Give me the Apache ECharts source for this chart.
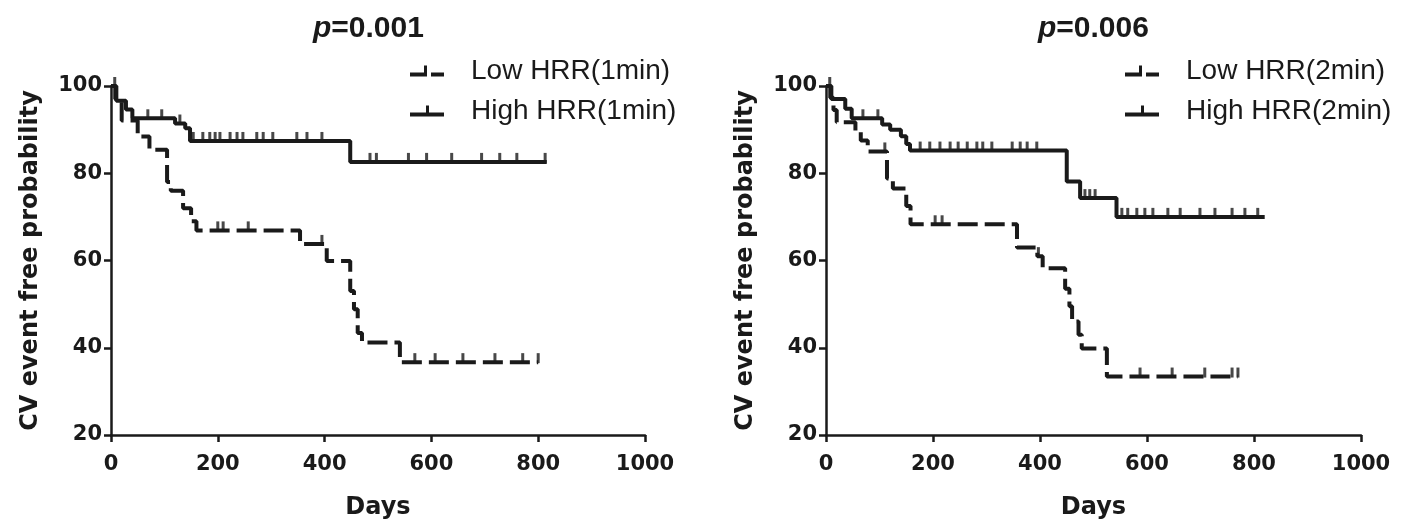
<!DOCTYPE html>
<html>
<head>
<meta charset="utf-8">
<script src="https://cdn.jsdelivr.net/npm/echarts@6/dist/echarts.min.js"></script>
<style>
  html, body { margin: 0; padding: 0; background: #fff; }
  #chart { width: 1407px; height: 525px; }
</style>
</head>
<body>
<div id="chart"></div>
<script>
// Kaplan-Meier steps: [day, survival %] -- value holds from that day on
// left panel: HRR at 1 min
var low1Steps = [[0,100],[8,97],[20,92.1],[50,88.4],[72,85.4],[105,78],[112,76],[135,72],[150,69],[160,66.9],
  [354,63.8],[404,59.9],[448,53],[455,48.8],[462,43.4],[470,41.2],[541,36.7],[800,36.7]];
var low1Censor = [200,210,257,395,569,607,659,719,771,800];
var high1Steps = [[0,100],[10,96.6],[28,94.6],[40,92.6],[120,91.4],[139,90.3],[148,87.4],[448,82.6],[816,82.6]];
var high1Censor = [7,69,95,129,154,172,185,195,204,223,236,247,273,285,303,348,367,395,
  485,497,557,591,638,694,728,760,813];

// right panel: HRR at 2 min
var low2Steps = [[0,100],[8,97.3],[14,94.5],[20,91.7],[55,89.5],[65,87.5],[78,85],[114,78.8],[125,76.5],[150,72.5],
  [158,68.3],[357,63],[395,61],[405,58.2],[447,53.5],[455,49.5],[460,46],[472,43],[478,39.8],[525,33.4],[770,33.4]];
var low2Censor = [110,204,217,397,587,647,708,759,770];
var high2Steps = [[0,100],[10,97],[36,94.8],[48,92.6],[105,91.2],[120,90],[140,88.5],[150,86.7],[157,85.2],
  [450,78.1],[475,74.3],[543,70],[820,70]];
var high2Censor = [7,69,97,176,194,213,232,247,264,282,293,310,348,363,376,394,484,493,503,
  553,564,581,596,611,639,662,699,727,759,783,807];

var xTicks = [0, 200, 400, 600, 800, 1000];
var yTicks = [20, 40, 60, 80, 100];
var pTexts = ['0.001', '0.006'];
var groupNames = [['Low HRR(1min)', 'High HRR(1min)'], ['Low HRR(2min)', 'High HRR(2min)']];

var INK = '#1a1a1a';
var FONT = 'DejaVu Sans';
var SANS = 'Liberation Sans';

// value of the step curve at a given day (censor marks sit on the curve)
function valueAt(steps, d) {
  var v = steps[0][1];
  for (var i = 0; i < steps.length; i++) {
    if (steps[i][0] <= d) v = steps[i][1];
  }
  return v;
}

function censorPoints(steps, days) {
  return days.map(function (d) { return [d, valueAt(steps, d)]; });
}

var dashIcon = 'path://M0,7H14V11H0Z M14,0H17V11H14Z M21,7H34V11H21Z';
var solidIcon = 'path://M0,7H34V11H0Z M16,0H19V7H16Z';

var chart = echarts.init(document.getElementById('chart'));

var gridLefts = [111, 826];
var gridWidths = [534, 535];
var legendLefts = [405, 1120];
var titleLefts = [308, 1033];

function makeXAxis(i) {
  return {
    type: 'value', gridIndex: i, min: xTicks[0], max: xTicks[xTicks.length - 1], interval: 200,
    name: 'Days', nameLocation: 'middle', nameGap: 61,
    nameTextStyle: { fontFamily: FONT, fontWeight: 'bold', fontSize: 24, color: INK },
    axisLine: { lineStyle: { color: INK, width: 2.5 } },
    axisTick: { inside: false, length: 7, lineStyle: { color: INK, width: 2.5 } },
    axisLabel: {
      margin: 19, fontFamily: FONT, fontWeight: 'bold', fontSize: 21, color: INK,
      formatter: function (v) { return String(v); }
    },
    splitLine: { show: false }
  };
}

function makeYAxis(i) {
  return {
    type: 'value', gridIndex: i, min: yTicks[0], max: yTicks[yTicks.length - 1], interval: 20,
    name: 'CV event free probability', nameLocation: 'middle', nameGap: 68, nameRotate: 90,
    nameTextStyle: { fontFamily: FONT, fontWeight: 'bold', fontSize: 24, color: INK },
    axisLine: { show: true, lineStyle: { color: INK, width: 2.5 } },
    axisTick: { show: true, length: 7, lineStyle: { color: INK, width: 2.5 } },
    axisLabel: { margin: 9, fontFamily: FONT, fontWeight: 'bold', fontSize: 21, color: INK },
    splitLine: { show: false }
  };
}

var grids = [], xAxes = [], yAxes = [], titles = [], legends = [], series = [];
var allSteps = [[low1Steps, high1Steps], [low2Steps, high2Steps]];
var allCensor = [[low1Censor, high1Censor], [low2Censor, high2Censor]];

for (var i = 0; i < 2; i++) {
  grids.push({ left: gridLefts[i], top: 86, width: gridWidths[i], height: 355 });
  xAxes.push(makeXAxis(i));
  yAxes.push(makeYAxis(i));
  titles.push({
    text: '{i|p}{b|=' + pTexts[i] + '}',
    left: titleLefts[i], top: 9,
    textStyle: {
      rich: {
        i: { fontFamily: SANS, fontStyle: 'italic', fontWeight: 'bold', fontSize: 30, color: INK },
        b: { fontFamily: SANS, fontWeight: 'bold', fontSize: 30, color: INK }
      }
    }
  });
  legends.push({
    orient: 'vertical', left: legendLefts[i], top: 52, itemGap: 12,
    itemWidth: 34, itemHeight: 11, selectedMode: false,
    textStyle: { fontFamily: SANS, fontSize: 28, color: INK, padding: [0, 0, 0, 22] },
    data: [
      { name: groupNames[i][0], icon: dashIcon },
      { name: groupNames[i][1], icon: solidIcon }
    ]
  });
  for (var g = 0; g < 2; g++) {
    series.push({
      name: groupNames[i][g], type: 'line', step: 'end',
      xAxisIndex: i, yAxisIndex: i, clip: false,
      symbol: 'none', silent: true,
      itemStyle: { color: INK },
      lineStyle: { color: INK, width: 4, type: g === 0 ? [20, 7] : 'solid' },
      data: allSteps[i][g]
    });
    series.push({
      name: groupNames[i][g] + ' censored', type: 'scatter',
      xAxisIndex: i, yAxisIndex: i, clip: false, silent: true,
      symbol: 'rect', symbolSize: [3, 10], symbolOffset: [0, -4],
      itemStyle: { color: INK },
      data: censorPoints(allSteps[i][g], allCensor[i][g])
    });
  }
}

chart.setOption({
  animation: false,
  backgroundColor: '#fff',
  title: titles,
  legend: legends,
  grid: grids,
  xAxis: xAxes,
  yAxis: yAxes,
  series: series
});
</script>
</body>
</html>
